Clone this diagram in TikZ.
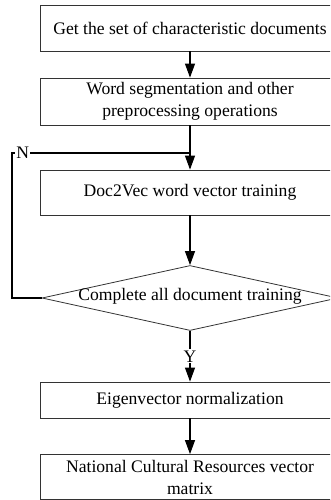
\documentclass[tikz,border=0pt]{standalone}
\usepackage{fontspec}
\setmainfont{Liberation Serif}
\usetikzlibrary{arrows.meta,shapes.geometric}

\begin{document}
\begin{tikzpicture}[x=1pt, y=1pt,
    box_style/.style = {draw=black!80, line width=0.8pt, rectangle, align=center,
        minimum width=300pt, inner sep=2pt, font=\fontsize{17.6}{22}\selectfont},
    cond_style/.style = {draw=black!80, line width=0.8pt, diamond, aspect=4.55,
        inner sep=0pt, text height=1.2ex, text depth=0pt,
        minimum width=296pt, minimum height=65pt, font=\fontsize{17.6}{22}\selectfont},
    arrow_style/.style = {line width=1.1pt, -{Triangle[length=14pt, width=10pt]}},
    line_style/.style = {line width=1.1pt},
    lbl_style/.style = {fill=white, inner sep=1pt, font=\fontsize{17.6}{20}\selectfont}]

\useasboundingbox (0,0) rectangle (330,-500);
\clip (0,0) rectangle (330,-500);

\node[box_style, minimum height=46pt] (1) at (190,-28) {Get the set of characteristic documents};

\node[box_style, below of=1, node distance=73.5pt, minimum height=47pt] (2) {
    Word segmentation and other\\preprocessing operations};

\node[box_style, below of=2, node distance=91pt, minimum height=45pt] (3) {Doc2Vec word vector training};

\node[cond_style, below of=3, node distance=105.5pt] (4) {Complete all document training};

\node[box_style, below of=4, node distance=102pt, minimum height=36pt] (5) {Eigenvector normalization};

\node[box_style, below of=5, node distance=77pt, minimum height=45pt] (6) {
    National Cultural Resources vector\\matrix};

% corners of the N loop
\coordinate (n_corner) at (12,-153);
\coordinate (n_join) at (190,-153);

% documents to preprocessing
\draw[arrow_style] (1) -- (2);

% preprocessing to training
\draw[arrow_style] (2) -- (3);

% training to check
\draw[arrow_style] (3) -- (4);

% check fails: back to training
\draw[line_style] (4.west) -| (n_corner)
    -- node[lbl_style, pos=0.06] {N} (n_join);

% check passes: normalization
\draw[arrow_style] (4) -- node[lbl_style, pos=0.5] {Y} (5);

% normalization to matrix
\draw[arrow_style] (5) -- (6);

\end{tikzpicture}
\end{document}
